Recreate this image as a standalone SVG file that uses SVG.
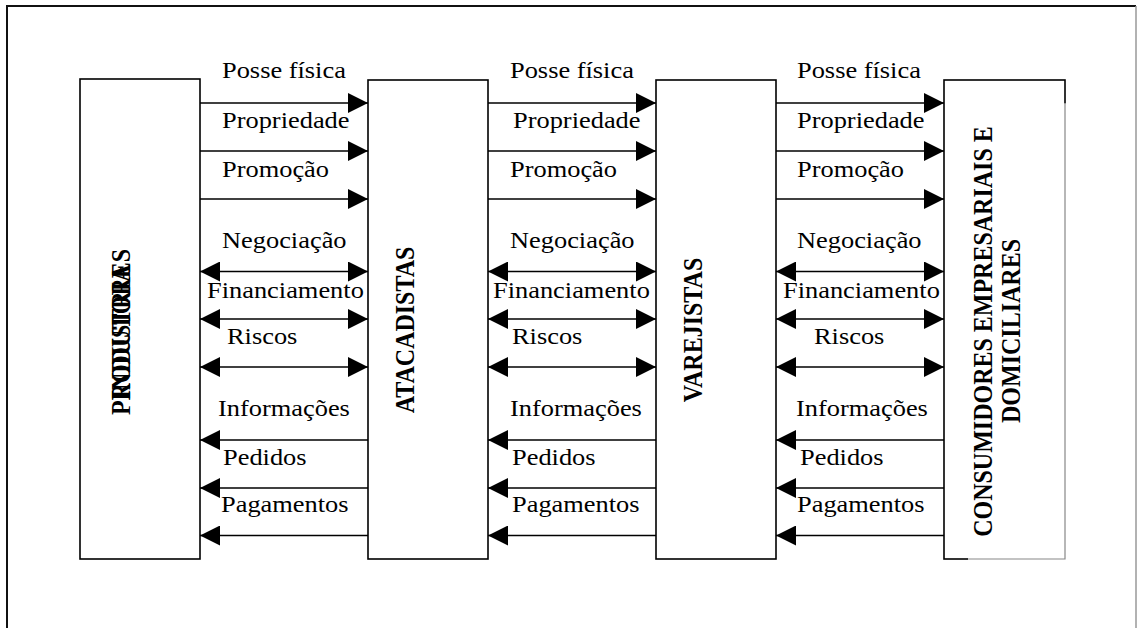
<svg xmlns="http://www.w3.org/2000/svg" width="1137" height="628" viewBox="0 0 1137 628">
  <style>
    .box { fill: #fff; stroke: #000; stroke-width: 1.6; }
    .flow { stroke: #000; stroke-width: 1.6; fill: none; }
    .lbl { font-family: "Liberation Serif", "Times New Roman", serif; font-size: 24px; fill: #000; }
    .ttl { font-family: "Liberation Serif", "Times New Roman", serif; font-size: 24px; font-weight: bold; fill: #000; text-anchor: middle; }
  </style>
  <defs>
    <marker id="head" markerUnits="userSpaceOnUse" markerWidth="20" markerHeight="20" refX="20" refY="10" orient="auto-start-reverse" viewBox="0 0 20 20">
      <path d="M0,0 L20,10 L0,20 z" fill="#000"/>
    </marker>
  </defs>

  <rect width="1137" height="628" fill="#fff"/>

  <!-- outer frame -->
  <g id="frame">
    <path d="M7,640 L7,6 L1136,6" fill="none" stroke="#111" stroke-width="2"/>
    <path d="M1136,6 L1136,640" fill="none" stroke="#999" stroke-width="1.5"/>
  </g>

  <!-- nodes -->
  <g id="produtores">
    <rect class="box" x="80" y="79" width="120" height="480"/>
    <text class="ttl" transform="translate(130,332) scale(1.1,1) rotate(-90)">PRODUTORES</text>
    <text class="ttl" transform="translate(130,332) scale(1.1,1) rotate(-90)">INDUSTRIA</text>
  </g>

  <g id="atacadistas">
    <rect class="box" x="368" y="80" width="120" height="479"/>
    <text class="ttl" transform="translate(414,330) scale(1.1,1) rotate(-90)">ATACADISTAS</text>
  </g>

  <g id="varejistas">
    <rect class="box" x="656" y="80" width="120" height="479"/>
    <text class="ttl" transform="translate(702,330) scale(1.1,1) rotate(-90)">VAREJISTAS</text>
  </g>

  <g id="consumidores">
    <rect class="box" x="944" y="80" width="121" height="479"/>
    <rect x="968" y="103.5" width="99" height="457" fill="#fff"/>
    <path d="M1065,103.5 L1065,559 L968,559" fill="none" stroke="#888" stroke-width="1.2"/>
    <text class="ttl" transform="translate(992,331.5) scale(1.1,1) rotate(-90)">CONSUMIDORES EMPRESARIAIS E</text>
    <text class="ttl" transform="translate(1020,331) scale(1.1,1) rotate(-90)">DOMICILIARES</text>
  </g>

  <!-- connectors -->
  <g id="connectors">
    <!-- forward flows -->
    <path class="flow" marker-end="url(#head)" d="M200,103 L368,103"/>
    <path class="flow" marker-end="url(#head)" d="M200,151 L368,151"/>
    <path class="flow" marker-end="url(#head)" d="M200,199 L368,199"/>
    <path class="flow" marker-end="url(#head)" d="M488,103 L656,103"/>
    <path class="flow" marker-end="url(#head)" d="M488,151 L656,151"/>
    <path class="flow" marker-end="url(#head)" d="M488,199 L656,199"/>
    <path class="flow" marker-end="url(#head)" d="M776,103 L944,103"/>
    <path class="flow" marker-end="url(#head)" d="M776,151 L944,151"/>
    <path class="flow" marker-end="url(#head)" d="M776,199 L944,199"/>
    <!-- two-way flows -->
    <path class="flow" marker-start="url(#head)" marker-end="url(#head)" d="M200,271.5 L368,271.5"/>
    <path class="flow" marker-start="url(#head)" marker-end="url(#head)" d="M200,319 L368,319"/>
    <path class="flow" marker-start="url(#head)" marker-end="url(#head)" d="M200,367 L368,367"/>
    <path class="flow" marker-start="url(#head)" marker-end="url(#head)" d="M488,271.5 L656,271.5"/>
    <path class="flow" marker-start="url(#head)" marker-end="url(#head)" d="M488,319 L656,319"/>
    <path class="flow" marker-start="url(#head)" marker-end="url(#head)" d="M488,367 L656,367"/>
    <path class="flow" marker-start="url(#head)" marker-end="url(#head)" d="M776,271.5 L944,271.5"/>
    <path class="flow" marker-start="url(#head)" marker-end="url(#head)" d="M776,319 L944,319"/>
    <path class="flow" marker-start="url(#head)" marker-end="url(#head)" d="M776,367 L944,367"/>
    <!-- backward flows -->
    <path class="flow" marker-end="url(#head)" d="M368,440 L200,440"/>
    <path class="flow" marker-end="url(#head)" d="M368,488 L200,488"/>
    <path class="flow" marker-end="url(#head)" d="M368,535.5 L200,535.5"/>
    <path class="flow" marker-end="url(#head)" d="M656,440 L488,440"/>
    <path class="flow" marker-end="url(#head)" d="M656,488 L488,488"/>
    <path class="flow" marker-end="url(#head)" d="M656,535.5 L488,535.5"/>
    <path class="flow" marker-end="url(#head)" d="M944,440 L776,440"/>
    <path class="flow" marker-end="url(#head)" d="M944,488 L776,488"/>
    <path class="flow" marker-end="url(#head)" d="M944,535.5 L776,535.5"/>
  </g>

  <!-- flow labels -->
  <g id="labels" class="lbl">
    <text transform="matrix(1.1,0,0,1,222,78)">Posse física</text>
    <text transform="matrix(1.1,0,0,1,222,128)">Propriedade</text>
    <text transform="matrix(1.1,0,0,1,222,176.5)">Promoção</text>
    <text transform="matrix(1.1,0,0,1,222,248)">Negociação</text>
    <text transform="matrix(1.1,0,0,1,207,298)">Financiamento</text>
    <text transform="matrix(1.1,0,0,1,227,344)">Riscos</text>
    <text transform="matrix(1.1,0,0,1,218,416)">Informações</text>
    <text transform="matrix(1.1,0,0,1,223,465)">Pedidos</text>
    <text transform="matrix(1.1,0,0,1,221,512)">Pagamentos</text>

    <text transform="matrix(1.1,0,0,1,510,78)">Posse física</text>
    <text transform="matrix(1.1,0,0,1,513,128)">Propriedade</text>
    <text transform="matrix(1.1,0,0,1,510,176.5)">Promoção</text>
    <text transform="matrix(1.1,0,0,1,510,248)">Negociação</text>
    <text transform="matrix(1.1,0,0,1,493,298)">Financiamento</text>
    <text transform="matrix(1.1,0,0,1,512,344)">Riscos</text>
    <text transform="matrix(1.1,0,0,1,510,416)">Informações</text>
    <text transform="matrix(1.1,0,0,1,512,465)">Pedidos</text>
    <text transform="matrix(1.1,0,0,1,512,512)">Pagamentos</text>

    <text transform="matrix(1.1,0,0,1,797,78)">Posse física</text>
    <text transform="matrix(1.1,0,0,1,797,128)">Propriedade</text>
    <text transform="matrix(1.1,0,0,1,797,176.5)">Promoção</text>
    <text transform="matrix(1.1,0,0,1,797,248)">Negociação</text>
    <text transform="matrix(1.1,0,0,1,783,298)">Financiamento</text>
    <text transform="matrix(1.1,0,0,1,814,344)">Riscos</text>
    <text transform="matrix(1.1,0,0,1,796,416)">Informações</text>
    <text transform="matrix(1.1,0,0,1,800,465)">Pedidos</text>
    <text transform="matrix(1.1,0,0,1,797,512)">Pagamentos</text>
  </g>
</svg>
